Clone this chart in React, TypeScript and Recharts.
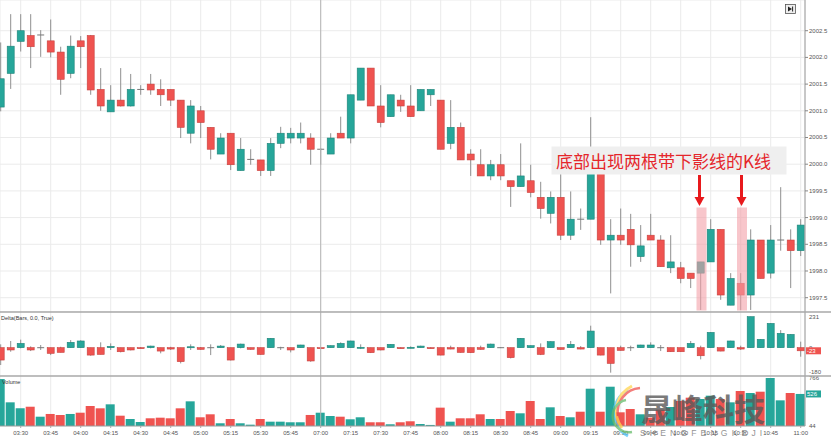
import React from 'react';
import { ComposedChart, Bar, XAxis, YAxis, CartesianGrid, ReferenceLine, Cell } from 'recharts';

// ---------- data ----------
const barTimes = [
  '03:20','03:25','03:30','03:35','03:40','03:45','03:50','03:55','04:00','04:05','04:10','04:15','04:20','04:25','04:30','04:35',
  '04:40','04:45','04:50','04:55','05:00','05:05','05:10','05:15','05:20','05:25','05:30','05:35','05:40','05:45','05:50','05:55',
  '07:00','07:05','07:10','07:15','07:20','07:25','07:30','07:35','07:40','07:45','07:50','07:55','08:00','08:05','08:10','08:15',
  '08:20','08:25','08:30','08:35','08:40','08:45','08:50','08:55','09:00','09:05','09:10','09:15','09:20','09:25','09:30','09:35',
  '09:40','09:45','09:50','09:55','10:00','10:05','10:10','10:15','10:20','10:25','10:30','10:35','10:40','10:45','10:50','10:55','11:00',
];
const tickLabels = ['03:30','03:45','04:00','04:15','04:30','04:45','05:00','05:15','05:30','05:45','07:00','07:15','07:30','07:45',
  '08:00','08:15','08:30','08:45','09:00','09:15','09:30','09:45','10:00','10:15','10:30','10:45','11:00'];
const sessionStart = '07:00';

const open = [2001.07,2001.70,2002.30,2002.41,2002.42,2002.31,2002.10,2001.70,2002.31,2002.41,2001.40,2000.98,2001.20,2001.09,2001.40,2001.50,2001.40,2001.40,2001.20,2000.58,2001.00,2000.69,2000.19,2000.58,1999.88,2000.09,2000.08,1999.88,2000.39,2000.49,2000.49,2000.49,2000.28,2000.19,2000.58,2000.49,2001.20,2001.80,2001.09,2000.89,2001.20,2001.09,2001.00,2001.30,2001.20,2000.39,2000.69,2000.19,1999.99,1999.78,1999.99,1999.69,1999.58,1999.69,1999.38,1999.08,1999.38,1998.67,1998.97,1998.97,1999.95,1998.58,1998.67,1998.78,1998.27,1998.67,1998.58,1998.06,1998.06,1997.96,1997.96,1998.17,1998.78,1997.36,1997.77,1997.55,1998.58,1997.96,1998.58,1998.58,1998.38];
const high = [2002.28,2002.81,2002.81,2002.81,2002.51,2002.71,2002.20,2002.41,2002.40,2002.42,2001.80,2001.48,2001.80,2001.69,2001.48,2001.69,2001.59,2001.40,2001.20,2001.20,2001.09,2000.69,2000.58,2000.58,2000.49,2000.28,2000.08,2000.49,2000.70,2000.68,2000.78,2000.58,2000.30,2000.58,2000.89,2001.30,2001.80,2001.80,2001.48,2001.30,2001.30,2001.48,2001.40,2001.40,2001.20,2001.20,2000.78,2000.28,2000.28,2000.08,2000.19,1999.69,2000.39,1999.99,1999.67,1999.49,1999.85,1999.49,1999.17,2000.88,1999.95,1998.97,1999.17,1999.07,1998.86,1999.07,1998.67,1998.67,1998.17,1997.96,1998.17,1998.97,1998.78,1997.96,1997.96,1998.78,1998.58,1998.86,1999.57,1998.78,1998.97];
const low = [2000.99,2001.41,2002.11,2001.80,2002.01,2002.00,2001.30,2001.61,2001.80,2001.30,2001.00,2000.98,2001.08,2001.08,2001.30,2001.30,2001.09,2001.09,2000.49,2000.39,2000.49,2000.09,2000.19,1999.89,1999.88,1999.99,1999.78,1999.78,2000.30,2000.39,2000.39,1999.99,1999.99,2000.19,2000.49,2000.39,2001.20,2001.09,2000.69,2000.89,2000.98,2000.89,2001.00,2001.09,2000.28,2000.28,2000.08,1999.78,1999.78,1999.70,1999.70,1999.20,1999.58,1999.38,1998.98,1998.89,1998.58,1998.58,1998.77,1998.97,1998.49,1997.58,1998.49,1998.08,1998.17,1998.58,1998.08,1997.96,1997.77,1997.68,1997.27,1998.17,1997.46,1997.36,1997.27,1997.27,1997.86,1997.86,1998.38,1997.68,1998.28];
const close = [2001.60,2002.21,2002.50,2002.20,2002.42,2002.10,2001.59,2002.21,2002.20,2001.39,2001.09,2001.20,2001.09,2001.40,2001.40,2001.39,2001.30,2001.20,2000.69,2001.09,2000.78,2000.28,2000.49,1999.99,2000.28,2000.09,1999.88,2000.39,2000.58,2000.58,2000.58,2000.28,2000.28,2000.49,2000.49,2001.30,2001.80,2001.09,2000.78,2001.30,2001.09,2000.89,2001.40,2001.40,2000.28,2000.69,2000.08,2000.08,1999.78,1999.99,1999.78,1999.58,1999.78,1999.47,1999.17,1999.38,1998.67,1998.97,1998.97,1999.95,1998.58,1998.67,1998.58,1998.49,1998.47,1998.58,1998.08,1998.17,1997.86,1997.86,1998.17,1998.78,1997.55,1997.86,1997.55,1998.58,1997.86,1998.58,1998.58,1998.38,1998.86];

const delta = [-92,-17,32,-17,0,-42,-35,40,50,-55,-50,10,-30,-17,-3,12,-25,-10,-104,7,-12,0,12,-92,27,-12,-50,70,0,-17,20,-99,-3,15,32,50,3,-37,-17,25,-3,3,12,-3,-55,-10,-35,-37,-12,27,0,-74,70,15,-50,45,-12,25,-10,124,-55,-117,-20,0,20,20,0,-30,-30,32,-60,114,-25,50,-10,231,62,181,107,99,-23];
const deltaHigh = [25,50,60,10,20,0,7,57,55,0,40,32,0,0,5,15,0,7,0,25,5,25,20,0,30,0,0,72,7,0,22,0,3,17,40,52,25,0,0,27,3,10,15,3,0,15,0,0,15,30,3,0,72,17,32,47,0,50,12,164,0,0,15,15,22,40,20,0,0,50,15,116,0,52,15,231,64,183,131,101,45];
const deltaLow = [-129,-30,-5,-25,-17,-55,-35,0,0,-60,-50,-17,-35,-20,-5,-5,-42,-17,-117,-17,-15,-55,0,-95,-5,-15,-52,0,-17,-35,0,-105,-5,0,0,0,-10,-40,-20,0,-5,-5,0,-5,-57,-12,-37,-40,-15,0,-3,-80,0,0,-55,0,-15,0,-12,0,-57,-186,-22,-25,0,0,-25,-32,-32,0,-87,0,-27,0,-17,0,0,0,0,0,-67];

const volume = [750,400,310,334,184,225,210,225,244,345,310,370,199,149,104,160,169,160,310,415,175,220,85,149,85,64,149,109,109,100,100,210,244,194,184,145,175,100,100,70,100,115,74,60,320,109,160,160,220,149,149,270,235,420,149,325,194,175,259,605,259,635,250,300,220,170,290,330,420,470,450,500,450,400,570,540,560,766,430,540,526];
const volumeUp = [1,1,1,0,1,0,0,1,0,0,0,1,0,1,1,0,0,0,0,1,0,0,1,0,1,1,0,1,1,1,1,0,1,1,0,1,1,0,0,1,0,0,1,1,0,1,0,0,0,1,0,0,1,0,0,1,0,1,0,1,0,1,0,0,1,0,0,1,0,0,1,1,0,1,0,1,0,1,1,0,1];

const priceTicks = ['1997.5','1998.0','1998.5','1999.0','1999.5','2000.0','2000.5','2001.0','2001.5','2002.0','2002.5'];
const deltaTicks = [231, 0, -180];
const volumeTicks = [766, 44];

// ---------- derived ----------
const firstIdx = -barTimes.indexOf('03:30');
const rows = barTimes.map((t, k) => ({
  idx: k + firstIdx,
  time: t,
  o: open[k], h: high[k], l: low[k], c: close[k],
  range: [low[k], high[k]],
  d: delta[k], dh: deltaHigh[k], dl: deltaLow[k],
  drange: [deltaLow[k], deltaHigh[k]],
  vol: volume[k],
  up: volumeUp[k] === 1,
}));
const tickIdx = tickLabels.map((t) => barTimes.indexOf(t) + firstIdx);
const labelOf: Record<number, string> = {};
tickLabels.forEach((t, k) => (labelOf[tickIdx[k]] = t));
const sessionIdx = barTimes.indexOf(sessionStart) + firstIdx;
const lastDelta = delta[delta.length - 1];
const lastVolume = volume[volume.length - 1];

const GREEN = '#26a69a';
const RED = '#ef5350';
const GREEN_D = '#1d8378';
const RED_D = '#c7403d';
const WICK = '#8f8f8f';
const AXIS = '#9a9a9a';
const GRID = '#ebebeb';
const FONT = '"Liberation Sans", Arial, sans-serif';
const X_DOMAIN: [number, number] = [-2.07, 78.43];

function makeCandle(kind: 'price' | 'delta', bodyW: number) {
  return (props: any) => {
    const { x, y, width, height, payload } = props;
    if (x == null || y == null || !payload) return <g />;
    const o = kind === 'price' ? payload.o : 0;
    const c = kind === 'price' ? payload.c : payload.d;
    const h = kind === 'price' ? payload.h : payload.dh;
    const l = kind === 'price' ? payload.l : payload.dl;
    const yTop = Math.min(y, y + height);
    const hh = Math.abs(height);
    const ppu = h - l !== 0 ? hh / (h - l) : 0;
    const yv = (v: number) => yTop + (h - v) * ppu;
    const cx = x + width / 2;
    const top = yv(Math.max(o, c));
    const bot = yv(Math.min(o, c));
    const up = c > o;
    const flat = c === o;
    return (
      <g>
        <line x1={cx} x2={cx} y1={yTop} y2={yTop + hh} stroke={WICK} strokeWidth={1} />
        {flat ? (
          <line x1={cx - bodyW / 2} x2={cx + bodyW / 2} y1={top} y2={top} stroke="#777" strokeWidth={1} />
        ) : (
          <rect
            x={cx - bodyW / 2}
            y={top}
            width={bodyW}
            height={Math.max(1, bot - top)}
            fill={up ? GREEN : RED}
            stroke={up ? GREEN_D : RED_D}
            strokeWidth={0.6}
          />
        )}
      </g>
    );
  };
}

const PriceCandle = makeCandle('price', 7);
const DeltaCandle = makeCandle('delta', 7);

const RightTick = (props: any) => {
  const { x, y, payload } = props;
  return (
    <text x={x} y={y} dy={2} fontSize={6} fill="#555" fontFamily={FONT}>
      {Number(payload.value).toFixed(1)}
    </text>
  );
};

const makeBadgeTick = (badgeValue: number, badgeColor: string) => (props: any) => {
  const { x, y, payload } = props;
  const v = payload.value;
  if (v === badgeValue) {
    return (
      <g>
        <rect x={x - 3} y={y - 3.5} width={15} height={7} fill={badgeColor} />
        <text x={x - 2} y={y} dy={2} fontSize={6} fill="#fff" fontFamily={FONT}>{String(v)}</text>
      </g>
    );
  }
  return (
    <text x={x} y={y} dy={2} fontSize={6} fill="#555" fontFamily={FONT}>{String(v)}</text>
  );
};
const DeltaTick = makeBadgeTick(lastDelta, RED);
const VolumeTick = makeBadgeTick(lastVolume, GREEN);

const BottomTick = (props: any) => {
  const { x, y, payload } = props;
  return (
    <text x={x} y={y} dy={5} textAnchor="middle" fontSize={6} fill="#555" fontFamily={FONT}>
      {labelOf[payload.value] ?? ''}
    </text>
  );
};

export default function App() {
  return (
    <div style={{ position: 'absolute', left: 0, top: 0, width: 831, height: 438, background: '#fff', overflow: 'hidden' }}>
      {/* price panel */}
      <div style={{ position: 'absolute', left: 0, top: 0 }}>
        <ComposedChart width={831} height={312} data={rows} margin={{ top: 0, right: 0, bottom: 0, left: 0 }}>
          <CartesianGrid stroke={GRID} />
          <XAxis dataKey="idx" type="number" domain={X_DOMAIN} allowDataOverflow ticks={tickIdx} hide />
          <YAxis
            orientation="right"
            width={26}
            type="number"
            domain={[1997.232, 2003.075]}
            allowDataOverflow
            ticks={priceTicks.map(Number)}
            axisLine={{ stroke: AXIS }}
            tickLine={{ stroke: '#888' }}
            tickSize={3}
            tickMargin={1}
            tick={<RightTick />}
          />
          <ReferenceLine x={sessionIdx} stroke="#b5b5b5" />
          <Bar dataKey="range" barSize={8} shape={<PriceCandle />} isAnimationActive={false} />
        </ComposedChart>
      </div>
      {/* delta panel */}
      <div style={{ position: 'absolute', left: 0, top: 312 }}>
        <ComposedChart width={831} height={64} data={rows} margin={{ top: 0, right: 0, bottom: 0, left: 0 }}>
          <CartesianGrid stroke={GRID} horizontal={false} />
          <XAxis dataKey="idx" type="number" domain={X_DOMAIN} allowDataOverflow ticks={tickIdx} hide />
          <YAxis
            orientation="right"
            width={26}
            type="number"
            domain={[-210.9, 266]}
            allowDataOverflow
            ticks={[...deltaTicks, lastDelta]}
            axisLine={{ stroke: AXIS }}
            tickLine={false}
            tickSize={0}
            tickMargin={4}
            tick={<DeltaTick />}
            interval={0}
          />
          <ReferenceLine x={sessionIdx} stroke="#b5b5b5" />
          <Bar dataKey="drange" barSize={8} shape={<DeltaCandle />} isAnimationActive={false} />
        </ComposedChart>
      </div>
      {/* volume panel */}
      <div style={{ position: 'absolute', left: 0, top: 376 }}>
        <ComposedChart width={831} height={62} data={rows} margin={{ top: 0, right: 0, bottom: 0, left: 0 }}>
          <CartesianGrid stroke={GRID} horizontal={false} />
          <XAxis
            dataKey="idx"
            type="number"
            domain={X_DOMAIN}
            allowDataOverflow
            ticks={tickIdx}
            interval={0}
            height={12}
            axisLine={{ stroke: AXIS }}
            tickLine={{ stroke: '#aaa' }}
            tickSize={2}
            tick={<BottomTick />}
          />
          <YAxis
            orientation="right"
            width={26}
            type="number"
            domain={[44, 796]}
            allowDataOverflow
            ticks={[...volumeTicks, lastVolume]}
            axisLine={{ stroke: AXIS }}
            tickLine={false}
            tickSize={0}
            tickMargin={4}
            tick={<VolumeTick />}
            interval={0}
          />
          <ReferenceLine x={sessionIdx} stroke="#b5b5b5" />
          <Bar dataKey="vol" barSize={9} isAnimationActive={false}>
            {rows.map((r, k) => (
              <Cell key={k} fill={r.up ? GREEN : RED} />
            ))}
          </Bar>
        </ComposedChart>
      </div>

      {/* overlay: separators, labels, annotation */}
      <svg width={831} height={438} style={{ position: 'absolute', left: 0, top: 0, pointerEvents: 'none' }}>
        <line x1={0} x2={831} y1={312} y2={312} stroke="#a8a8a8" strokeWidth={1.6} />
        <line x1={0} x2={831} y1={376} y2={376} stroke="#a8a8a8" strokeWidth={1.6} />
        <text x={1} y={320} fontSize={5.5} fill="#333" fontFamily={FONT}>Delta(Bars, 0.0, True)</text>
        <text x={2} y={384} fontSize={5.5} fill="#333" fontFamily={FONT}>Volume</text>

        {/* top-right button */}
        <rect x={785.5} y={4.5} width={10} height={9} fill="#eee" stroke="#555" strokeWidth={0.8} />
        <polygon points="788,6.5 792,9 788,11.5" fill="#222" />
        <line x1={792.6} x2={792.6} y1={6.5} y2={11.5} stroke="#222" strokeWidth={1} />

        {/* annotation */}
        <rect x={551.5} y={146.5} width={235} height={28} fill="#efefef" />
        <text x={556} y={168} fontSize={17} fill="#e5262b" fontFamily='"Noto Sans CJK SC", sans-serif'>底部出现两根带下影线的K线</text>
        <rect x={696.5} y={207.5} width={10} height={103} fill="#f4a0a8" opacity={0.6} />
        <rect x={737} y={207.5} width={10} height={103} fill="#f4a0a8" opacity={0.6} />
        <line x1={699.5} x2={699.5} y1={175} y2={198} stroke="#e8191c" strokeWidth={3} />
        <polygon points="694.5,197 704.5,197 699.5,206" fill="#e8191c" />
        <line x1={741.5} x2={741.5} y1={175} y2={198} stroke="#e8191c" strokeWidth={3} />
        <polygon points="736.5,197 746.5,197 741.5,206" fill="#e8191c" />

        {/* watermark */}
        <g opacity={0.75}>
          <path d="M628,390 A26,26 0 0 0 628,436" fill="none" stroke="#4fc3f7" strokeWidth={3} />
          <path d="M632,386 A28,28 0 0 0 622,428" fill="none" stroke="#ffd54f" strokeWidth={3} />
          <path d="M640,388 A24,24 0 0 0 618,416" fill="none" stroke="#ef5350" strokeWidth={2.5} />
          <path d="M626,400 A16,16 0 0 0 632,432" fill="none" stroke="#66bb6a" strokeWidth={2.5} />
        </g>
        <text x={641} y={421} fontSize={31} fill="#5a5a5a" opacity={0.8} fontFamily='"Noto Sans CJK SC", sans-serif' fontWeight={700}>晟峰科技</text>
        <text x={640} y={436} fontSize={8.5} fill="#666" opacity={0.7} letterSpacing={4.2} fontFamily={FONT}>SHENGFENGKEJI</text>
      </svg>
    </div>
  );
}
